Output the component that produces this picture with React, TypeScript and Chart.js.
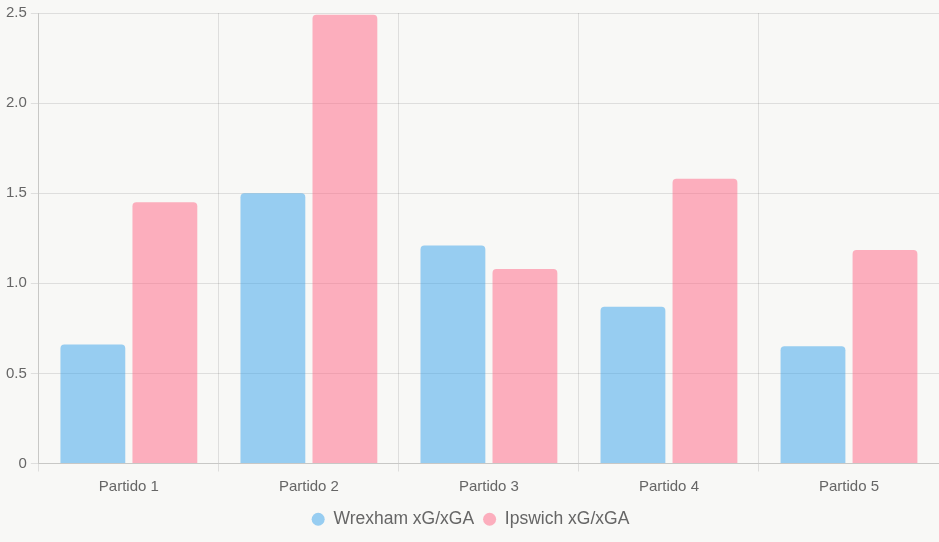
import React, { useEffect, useRef } from "react";
import { Chart, registerables } from "chart.js";

Chart.register(...registerables);

const categories = ["Partido 1", "Partido 2", "Partido 3", "Partido 4", "Partido 5"];
const wrexhamValues = [0.66, 1.5, 1.21, 0.87, 0.65];
const ipswichValues = [1.45, 2.49, 1.08, 1.58, 1.185];
const seriesLabels = ["Wrexham xG/xGA", "Ipswich xG/xGA"];

const FONT = "Arial, 'Liberation Sans', sans-serif";

export default function App() {
  const ref = useRef<HTMLCanvasElement>(null);

  useEffect(() => {
    document.body.style.margin = "0";
    document.body.style.background = "#f8f8f6";
    const ctx = ref.current!;
    const chart = new Chart(ctx, {
      type: "bar",
      data: {
        labels: categories,
        datasets: [
          {
            label: seriesLabels[0],
            data: wrexhamValues,
            backgroundColor: "rgba(54, 162, 235, 0.5)",
            borderRadius: 4,
            borderSkipped: "bottom",
          },
          {
            label: seriesLabels[1],
            data: ipswichValues,
            backgroundColor: "rgba(255, 99, 132, 0.5)",
            borderRadius: 4,
            borderSkipped: "bottom",
          },
        ],
      },
      options: {
        animation: false,
        responsive: false,
        maintainAspectRatio: false,
        layout: { padding: { top: 0, left: 2, right: 0, bottom: 4 } },
        plugins: {
          legend: {
            position: "bottom",
            labels: {
              usePointStyle: true,
              pointStyle: "circle",
              pointStyleWidth: 13,
              color: "#666",
              font: { family: FONT, size: 17.5 },
              boxHeight: 9.2,
              padding: 9,
            },
          },
          tooltip: { enabled: false },
        },
        scales: {
          x: {
            grid: { color: "rgba(0,0,0,0.1)" },
            ticks: {
              color: "#666",
              padding: 6,
              font: { family: FONT, size: 15 },
            },
          },
          y: {
            beginAtZero: true,
            max: 2.5,
            grid: { color: "rgba(0,0,0,0.1)" },
            ticks: {
              stepSize: 0.5,
              color: "#666",
              padding: 4,
              font: { family: FONT, size: 15 },
            },
          },
        },
      },
    });
    return () => chart.destroy();
  }, []);

  return (
    <div style={{ width: 939, height: 542, background: "#f8f8f6" }}>
      <canvas ref={ref} width={939} height={542} style={{ display: "block" }} />
    </div>
  );
}
